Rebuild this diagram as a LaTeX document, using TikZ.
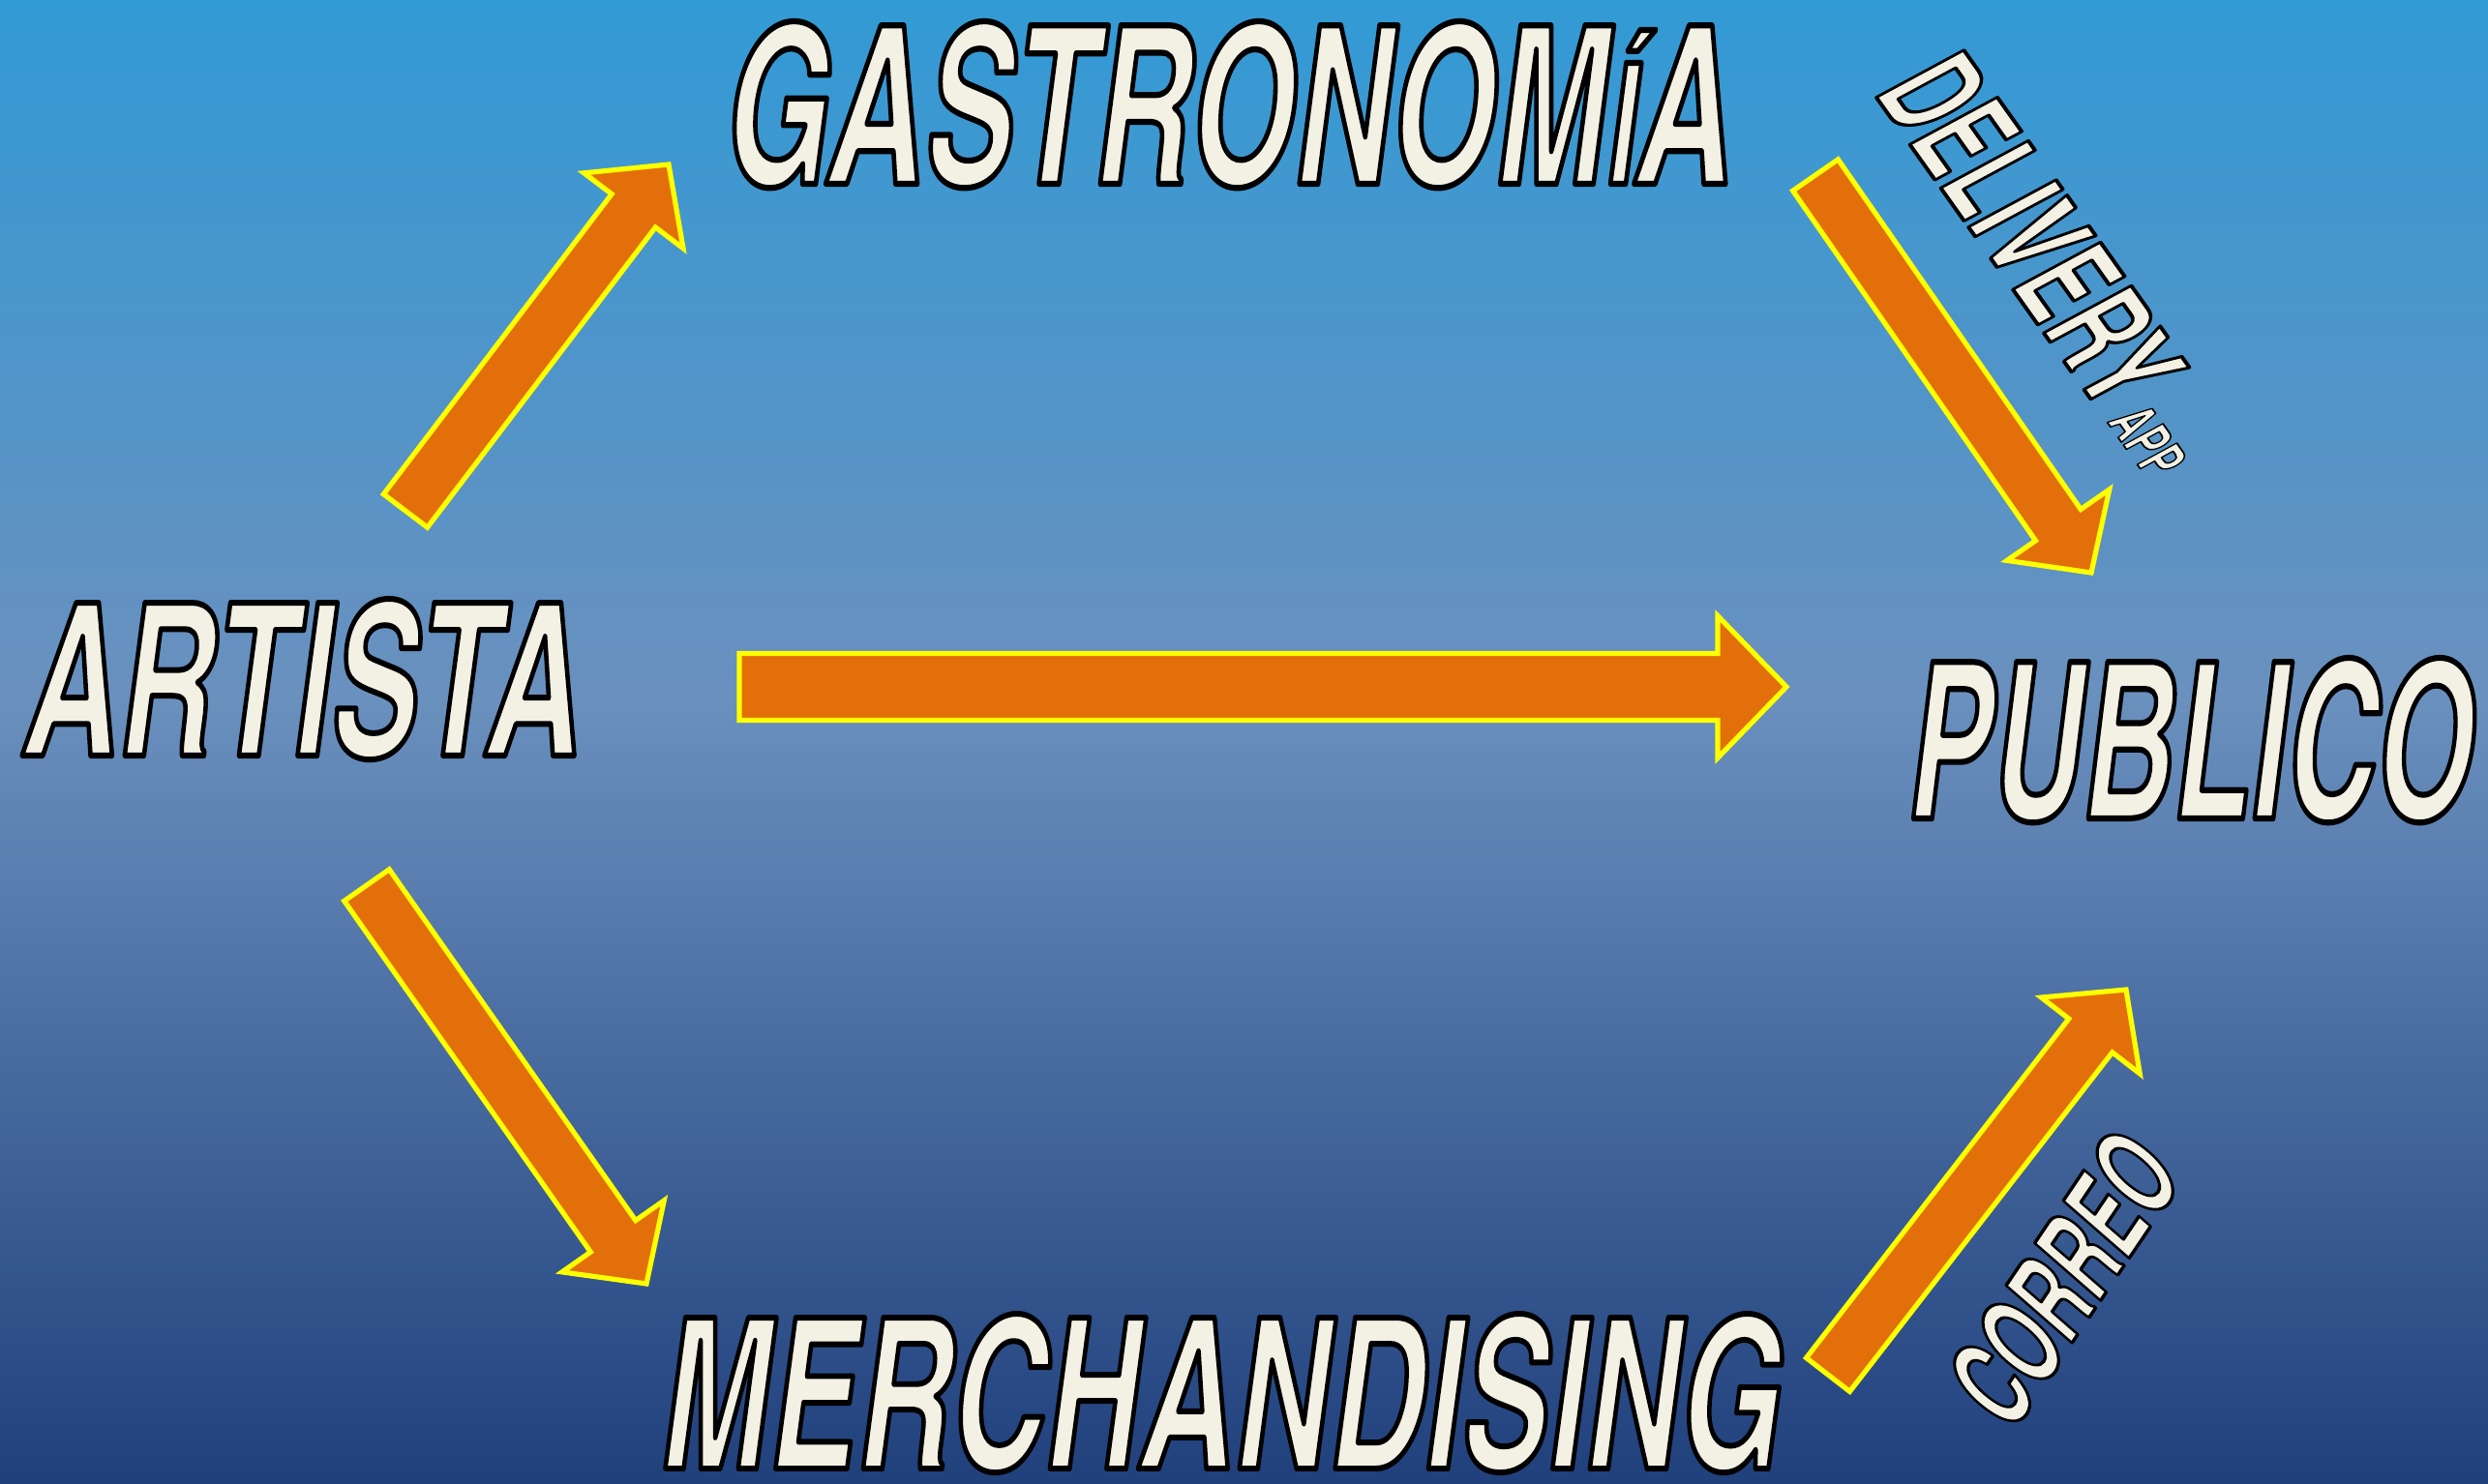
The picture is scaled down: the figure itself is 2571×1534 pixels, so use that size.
\documentclass[tikz,border=0pt]{standalone}
\usepackage{fontspec}
\usetikzlibrary{calc}
\newfontfamily\comicfont{texgyreheroscn-bolditalic.otf}
\definecolor{bgtop}{RGB}{50,154,213}
\definecolor{bgmid}{RGB}{106,144,190}
\definecolor{bgbot}{RGB}{32,64,124}
\definecolor{arrorange}{RGB}{227,111,11}
\definecolor{arryellow}{RGB}{255,255,0}
\definecolor{cream}{RGB}{243,240,228}
\pgfdeclareverticalshading{bgshade}{100bp}{color(0bp)=(bgbot); color(25bp)=(bgbot); color(51.5bp)=(bgmid); color(75bp)=(bgtop); color(100bp)=(bgtop)}
\newcommand{\outlon}{\special{pdf:literal direct 0 0 0 RG 3 w 1 j 2 Tr}}
\newcommand{\outloff}{\special{pdf:literal direct 0 Tr}}
\newcommand{\ctext}[3]{\resizebox{#1}{#2}{\fontsize{110pt}{110pt}\comicfont\outlon #3\outloff}}
\newcommand{\blockarrow}[5]{%
  \coordinate (#1hb) at ($(#2)!#5!(#1)$);
  \draw[barrow] ($(#1)!#3!-90:(#2)$) -- ($(#1hb)!#3!-90:(#2)$) -- ($(#1hb)!#4!-90:(#2)$) -- (#2)
     -- ($(#1hb)!#4!90:(#2)$) -- ($(#1hb)!#3!90:(#2)$) -- ($(#1)!#3!90:(#2)$) -- cycle;
}
\begin{document}
\begin{tikzpicture}[x=0.5pt,y=-0.5pt,
  lbl/.style={inner sep=0pt,outer sep=0pt,text=cream},
  barrow/.style={fill=arrorange,draw=arryellow,line width=2.6pt,line join=miter}]
\useasboundingbox (0,0) rectangle (2571,1534);
\shade[shading=bgshade] (0,0) rectangle (2571,1534);

% arrows
\coordinate (a1t) at (419,528);  \coordinate (a1h) at (691,170);
\coordinate (a2t) at (1876,181); \coordinate (a2h) at (2161,592);
\coordinate (a3t) at (379,915);  \coordinate (a3h) at (668,1327);
\coordinate (a4t) at (1889,1421);\coordinate (a4h) at (2197,1023);
\coordinate (a5t) at (764,710);  \coordinate (a5h) at (1846,710);
\blockarrow{a1t}{a1h}{14.2pt}{32.2pt}{30pt}
\blockarrow{a2t}{a2h}{14.2pt}{32.2pt}{30pt}
\blockarrow{a3t}{a3h}{14.2pt}{32.2pt}{30pt}
\blockarrow{a4t}{a4h}{14.2pt}{32.2pt}{30pt}
\blockarrow{a5t}{a5h}{17.2pt}{36.7pt}{35.5pt}

% labels
\node[lbl,anchor=base west] (artista) at (25,781) {\ctext{288pt}{81pt}{ARTISTA}};
\node[lbl,anchor=base west] (gastro) at (749,190) {\ctext{521pt}{84pt}{GASTRONOM{\fontsize{84pt}{84pt}\selectfont Í}A}};
\node[lbl,anchor=base west] (publico) at (1972,846) {\ctext{292pt}{83pt}{PUBLICO}};
\node[lbl,anchor=base west] (merch) at (683,1518) {\ctext{579pt}{80pt}{MERCHANDISING}};
\node[lbl,anchor=base west,rotate=-54.6] (delivery) at (1937,98) {\ctext{205pt}{51pt}{DELIVERY}\hspace{3pt}\ctext{38pt}{23pt}{APP}};
\node[lbl,rotate=56] (correo) at (2131,1323) {\ctext{160pt}{46pt}{CORREO}};
\end{tikzpicture}
\end{document}
